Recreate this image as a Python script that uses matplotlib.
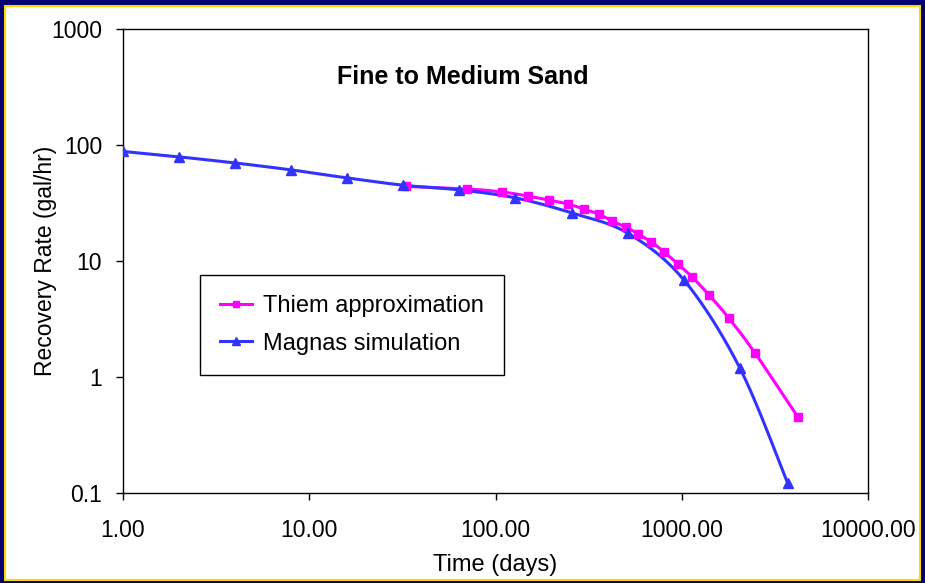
import numpy as np
import matplotlib
matplotlib.use("Agg")
import matplotlib.pyplot as plt
from matplotlib.patches import Rectangle
from matplotlib.ticker import FixedLocator, FixedFormatter, NullLocator

plt.rcParams['font.family'] = ['Liberation Sans', 'DejaVu Sans']

# data
thiem_t = [33, 70, 108, 149, 194, 245, 299, 359, 422, 502, 583, 684, 803, 954,
           1135, 1400, 1795, 2473, 4209]
thiem_q = [44, 41.8, 39.4, 36.3, 33.5, 31.0, 28.0, 25.4, 22.1, 19.6, 17.1, 14.6,
           12.0, 9.4, 7.3, 5.1, 3.2, 1.61, 0.45]

magnas_t = [1, 2, 4, 8, 16, 32, 64, 128, 256, 512, 1024, 2048, 3700]
magnas_q = [88, 79, 70, 61, 52, 45, 41, 35, 26, 17.4, 6.9, 1.2, 0.122]

x_ticks = [1, 10, 100, 1000, 10000]
y_ticks = [0.1, 1, 10, 100, 1000]
y_ticklabels = ["0.1", "1", "10", "100", "1000"]


def smooth(t, q, n=20):
    """Catmull-Rom curve through the points in log space (like Excel's smoothed line)"""
    p = np.column_stack([np.log10(t), np.log10(q)])
    p = np.vstack([p[0], p, p[-1]])
    out = []
    s = np.linspace(0, 1, n, endpoint=False)[:, None]
    for i in range(1, len(p) - 2):
        p0, p1, p2, p3 = p[i - 1], p[i], p[i + 1], p[i + 2]
        seg = 0.5 * ((2 * p1) + (-p0 + p2) * s + (2 * p0 - 5 * p1 + 4 * p2 - p3) * s**2
                     + (-p0 + 3 * p1 - 3 * p2 + p3) * s**3)
        out.append(seg)
    out.append(p[-2][None, :])
    out = np.vstack(out)
    return 10**out[:, 0], 10**out[:, 1]


navy = '#000070'
pink = '#FF00FF'
blue = '#3333FF'

fig = plt.figure(figsize=(9.25, 5.83), dpi=100, facecolor=navy)
# white slide panel with thin yellow edge
fig.patches.append(Rectangle((5 / 925, 3 / 583), 915 / 925, 574 / 583, transform=fig.transFigure,
                             facecolor='white', edgecolor='#FFD700', linewidth=1.5, zorder=-10))

ax = fig.add_axes([123 / 925, 1 - 493 / 583, 745 / 925, 464 / 583])
ax.set_zorder(1)
ax.set_facecolor('white')
ax.set_xscale('log')
ax.set_yscale('log')
ax.set_xlim(1, 10000)
ax.set_ylim(0.1, 1000)

xs, ys = smooth(thiem_t, thiem_q)
ax.plot(xs, ys, color=pink, lw=2.2, zorder=3)
ax.plot(thiem_t, thiem_q, ls='none', marker='s', ms=5.5, color=pink, zorder=4)
xs, ys = smooth(magnas_t, magnas_q)
ax.plot(xs, ys, color=blue, lw=2.2, zorder=3)
ax.plot(magnas_t, magnas_q, ls='none', marker='^', ms=6.5, color=blue, zorder=4)

# legend handles
h1, = ax.plot([], [], color=pink, lw=2.2, marker='s', ms=5)
h2, = ax.plot([], [], color=blue, lw=2.2, marker='^', ms=6)
leg = ax.legend([h1, h2], ["Thiem approximation", "Magnas simulation"], loc='upper left',
                bbox_to_anchor=(0.103, 0.47), borderaxespad=0, fancybox=False, framealpha=1,
                fontsize=17, handlelength=1.35, handletextpad=0.5, borderpad=0.85,
                labelspacing=0.66)
leg.get_frame().set_edgecolor('black')
leg.get_frame().set_linewidth(1.0)

ax.xaxis.set_major_locator(FixedLocator(x_ticks))
ax.xaxis.set_major_formatter(FixedFormatter(["%.2f" % v for v in x_ticks]))
ax.xaxis.set_minor_locator(NullLocator())
ax.yaxis.set_major_locator(FixedLocator(y_ticks))
ax.yaxis.set_major_formatter(FixedFormatter(y_ticklabels))
ax.yaxis.set_minor_locator(NullLocator())
ax.tick_params(labelsize=16.5, length=5, width=1, direction='out')
ax.tick_params(axis='x', pad=14)
ax.tick_params(axis='y', pad=10)

for sp in ax.spines.values():
    sp.set_linewidth(1.0)

ax.set_xlabel("Time (days)", fontsize=17, labelpad=8.5)
ax.set_ylabel("Recovery Rate (gal/hr)", fontsize=16.5)
ax.yaxis.set_label_coords(-0.0886, 0.5)
ax.text(0.456, 0.896, "Fine to Medium Sand", transform=ax.transAxes, ha='center', va='center',
        fontsize=18, fontweight='bold')

fig.savefig("out.png", dpi=100, facecolor=navy)
